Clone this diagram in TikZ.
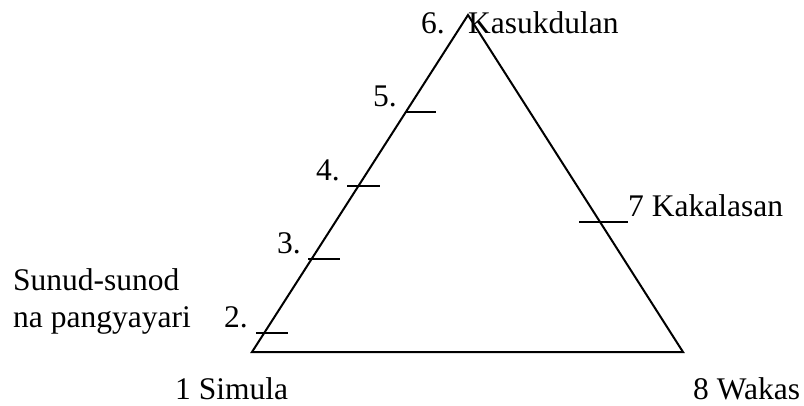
\documentclass[tikz,border=0pt]{standalone}
\usepackage{fontspec}
\setmainfont{Liberation Serif}
\begin{document}
\begin{tikzpicture}[x=1pt,y=-1pt,
  lbl/.style={anchor=base west,inner sep=0pt,font=\fontsize{31.5}{37}\selectfont},
  edge/.style={line width=2pt,line join=miter},
  tick/.style={line width=1.6pt}]
\useasboundingbox (0,0) rectangle (804,405);
\coordinate (A) at (468,15);
\coordinate (B) at (252,352);
\coordinate (C) at (683,352);
\draw[edge] (B) -- (A) -- (C) -- cycle;
% ticks
\coordinate (t2a) at (256,333); \coordinate (t2b) at (288,333);
\coordinate (t3a) at (308,259); \coordinate (t3b) at (340,259);
\coordinate (t4a) at (347,186); \coordinate (t4b) at (380,186);
\coordinate (t5a) at (405,112); \coordinate (t5b) at (436,112);
\coordinate (t7a) at (579,222); \coordinate (t7b) at (628,222);
\draw[tick] (t2a) -- (t2b);
\draw[tick] (t3a) -- (t3b);
\draw[tick] (t4a) -- (t4b);
\draw[tick] (t5a) -- (t5b);
\draw[tick] (t7a) -- (t7b);
% labels
\node[lbl] (l6) at (421,33) {6.};
\node[lbl] (top) at (468,33) {Kasukdulan};
\node[lbl] (l5) at (373,106) {5.};
\node[lbl] (l4) at (316,180) {4.};
\node[lbl] (l3) at (277,253) {3.};
\node[lbl] (l2) at (224,327) {2.};
\node[lbl] (s1) at (13,290) {Sunud-sunod};
\node[lbl] (s2) at (13,327) {na pangyayari};
\node[lbl] (l7) at (628,216) {7 Kakalasan};
\node[lbl] (l1) at (175,399) {1 Simula};
\node[lbl] (l8) at (693,399) {8 Wakas};
\end{tikzpicture}
\end{document}
